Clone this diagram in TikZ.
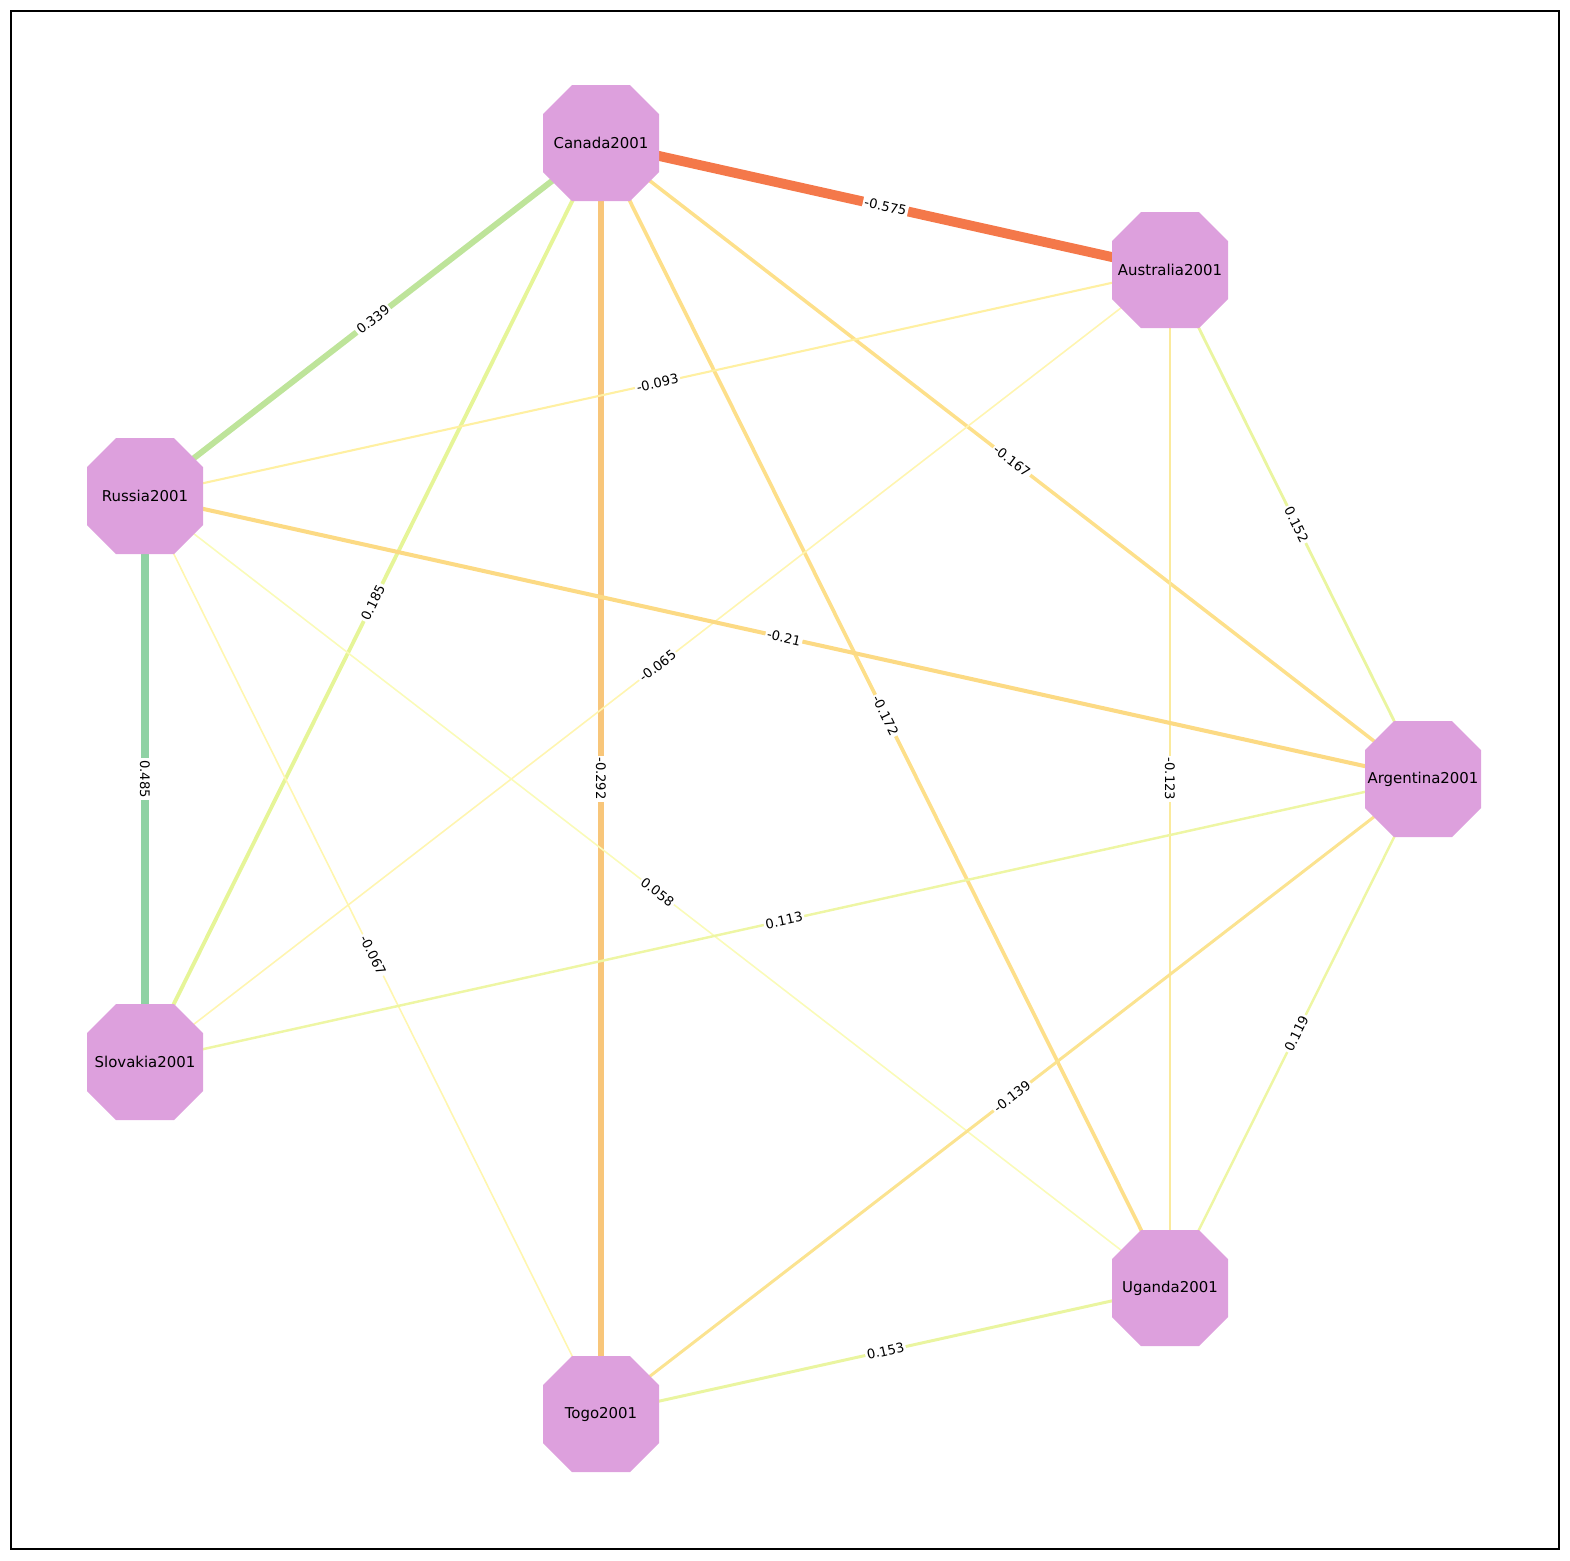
\documentclass[tikz,border=0pt]{standalone}
\usepackage{fontspec}
\setmainfont{DejaVu Sans}
\begin{document}
\begin{tikzpicture}[x=0.02cm,y=-0.02cm,
 octlab/.style={font=\fontsize{8.5}{10}\selectfont,inner sep=0pt},
 lab/.style={midway,sloped,fill=white,text=black,inner sep=1pt,font=\fontsize{7.5}{9}\selectfont}]
\definecolor{octc}{HTML}{DDA0DD}
\useasboundingbox (0,0) rectangle (1570,1560);
\draw[line width=0.6pt] (11,11) rectangle (1559,1549);
\coordinate (ca) at (601,143);
\coordinate (au) at (1170,270);
\coordinate (ru) at (145,496);
\coordinate (ar) at (1423,779);
\coordinate (sl) at (145,1062);
\coordinate (ug) at (1170,1288);
\coordinate (to) at (601,1414);
\draw[color={rgb,255:red,244;green,120;blue,74},line width=5.6pt] (ca) -- (au) node[lab]{-0.575};
\draw[color={rgb,255:red,190;green,228;blue,154},line width=3.4pt] (ca) -- (ru) node[lab]{0.339};
\draw[color={rgb,255:red,143;green,210;blue,164},line width=5pt] (ru) -- (sl) node[lab]{0.485};
\draw[color={rgb,255:red,230;green,245;blue,152},line width=2.2pt] (ca) -- (sl) node[lab]{0.185};
\draw[color={rgb,255:red,248;green,198;blue,122},line width=3pt] (ca) -- (to) node[lab]{-0.292};
\draw[color={rgb,255:red,253;green,223;blue,138},line width=2.1pt] (ca) -- (ug) node[lab]{-0.172};
\draw[color={rgb,255:red,253;green,224;blue,139},line width=2pt] (ca) -- (ar) node[lab]{-0.167};
\draw[color={rgb,255:red,255;green,240;blue,162},line width=1.2pt] (au) -- (ru) node[lab]{-0.093};
\draw[color={rgb,255:red,255;green,245;blue,176},line width=0.9pt] (au) -- (sl) node[lab]{-0.065};
\draw[color={rgb,255:red,251;green,234;blue,156},line width=1.6pt] (au) -- (ug) node[lab]{-0.123};
\draw[color={rgb,255:red,234;green,245;blue,160},line width=1.6pt] (au) -- (ar) node[lab]{0.152};
\draw[color={rgb,255:red,252;green,218;blue,132},line width=2.3pt] (ru) -- (ar) node[lab]{-0.21};
\draw[color={rgb,255:red,255;green,246;blue,176},line width=0.9pt] (ru) -- (to) node[lab]{-0.067};
\draw[color={rgb,255:red,250;green,251;blue,184},line width=0.9pt] (ru) -- (ug) node[lab]{0.058};
\draw[color={rgb,255:red,238;green,246;blue,164},line width=1.4pt] (ar) -- (sl) node[lab]{0.113};
\draw[color={rgb,255:red,251;green,227;blue,144},line width=1.7pt] (ar) -- (to) node[lab]{-0.139};
\draw[color={rgb,255:red,238;green,246;blue,164},line width=1.4pt] (ar) -- (ug) node[lab]{0.119};
\draw[color={rgb,255:red,234;green,245;blue,160},line width=1.7pt] (ug) -- (to) node[lab]{0.153};
\foreach \c in {ca,au,ru,ar,sl,ug,to}{
 \fill[octc] ([shift={(-29,-58)}]\c) -- ([shift={(29,-58)}]\c) -- ([shift={(58,-29)}]\c) -- ([shift={(58,29)}]\c)
  -- ([shift={(29,58)}]\c) -- ([shift={(-29,58)}]\c) -- ([shift={(-58,29)}]\c) -- ([shift={(-58,-29)}]\c) -- cycle;}
\node[octlab] (nca) at (ca) {Canada2001};
\node[octlab] (nau) at (au) {Australia2001};
\node[octlab] (nru) at (ru) {Russia2001};
\node[octlab] (nar) at (ar) {Argentina2001};
\node[octlab] (nsl) at (sl) {Slovakia2001};
\node[octlab] (nug) at (ug) {Uganda2001};
\node[octlab] (nto) at (to) {Togo2001};
\end{tikzpicture}
\end{document}
